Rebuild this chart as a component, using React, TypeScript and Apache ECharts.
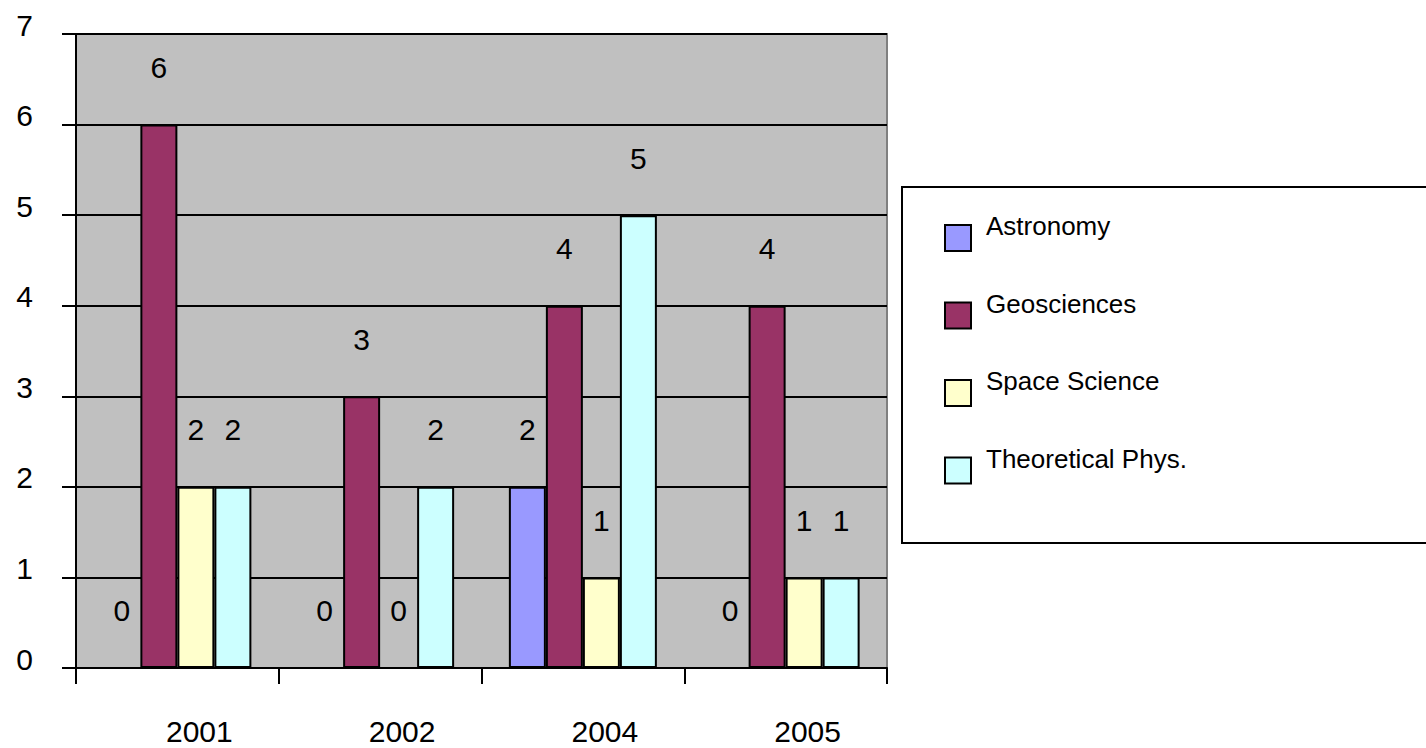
import React, { useEffect, useRef } from "react";
import * as echarts from "echarts";

const categories = ["2001", "2002", "2004", "2005"];
const seriesNames = ["Astronomy", "Geosciences", "Space Science", "Theoretical Phys."];
const astronomy = [0, 0, 2, 0];
const geosciences = [6, 3, 4, 4];
const spaceScience = [2, 0, 1, 1];
const theoreticalPhys = [2, 2, 5, 1];
const colors = ["#9999FF", "#993366", "#FFFFCC", "#CCFFFF"];
const yTicks = [0, 1, 2, 3, 4, 5, 6, 7];

const FONT = "'Liberation Sans', Arial, sans-serif";

export default function App() {
  const ref = useRef<HTMLDivElement>(null);
  useEffect(() => {
    if (!ref.current) return;
    const chart = echarts.init(ref.current, undefined, { renderer: "svg" });
    const values = [astronomy, geosciences, spaceScience, theoreticalPhys];
    const series = seriesNames.map((name, i) => ({
      name,
      type: "bar" as const,
      data: values[i],
      barGap: "0%",
      barCategoryGap: "27%",
      itemStyle: { color: colors[i], borderColor: "#000", borderWidth: 2 },
      label: {
        show: true,
        position: "top" as const,
        distance: 42,
        fontSize: 30,
        color: "#000",
        fontFamily: FONT,
      },
    }));
    chart.setOption({
      animation: false,
      backgroundColor: "#fff",
      textStyle: { fontFamily: FONT },
      graphic: [
        {
          type: "rect",
          shape: { x: 902, y: 187, width: 540, height: 356 },
          style: { fill: "#fff", stroke: "#000", lineWidth: 2 },
          z: -1,
        },
      ],
      legend: {
        orient: "vertical",
        left: 944,
        top: 213,
        padding: 0,
        itemWidth: 26,
        itemHeight: 26,
        itemGap: 38.5,
        icon: "rect",
        data: seriesNames,
        formatter: (name: string) => `{t|${name}}{s| }`,
        textStyle: {
          fontSize: 26,
          color: "#000",
          fontFamily: FONT,
          padding: [0, 0, 0, 10],
          rich: {
            t: { fontSize: 26, fontFamily: FONT, color: "#000", verticalAlign: "top", lineHeight: 26 },
            s: { fontSize: 2, lineHeight: 50 },
          },
        },
      },
      grid: {
        left: 76,
        right: 539,
        top: 34,
        bottom: 80,
        show: true,
        backgroundColor: "#C0C0C0",
        borderColor: "#808080",
        borderWidth: 2,
      },
      xAxis: {
        type: "category",
        data: categories,
        boundaryGap: true,
        axisLine: { lineStyle: { color: "#000", width: 2 } },
        axisTick: { show: true, length: 16, interval: 0, lineStyle: { color: "#000", width: 2 } },
        axisLabel: {
          fontSize: 30,
          color: "#000",
          fontFamily: FONT,
          margin: 48,
          padding: [0, 0, 0, 44],
        },
      },
      yAxis: {
        type: "value",
        min: yTicks[0],
        max: yTicks[yTicks.length - 1],
        interval: 1,
        axisLine: { show: true, lineStyle: { color: "#000", width: 2 } },
        axisTick: { show: true, length: 14, lineStyle: { color: "#000", width: 2 } },
        splitLine: { show: true, lineStyle: { color: "#000", width: 2 } },
        axisLabel: {
          fontSize: 30,
          color: "#000",
          fontFamily: FONT,
          margin: 43,
          verticalAlign: "bottom",
          lineHeight: 18,
        },
      },
      series,
    });
    return () => chart.dispose();
  }, []);
  return (
    <div
      ref={ref}
      style={{ position: "absolute", left: 0, top: 0, width: 1426, height: 748 }}
    />
  );
}
